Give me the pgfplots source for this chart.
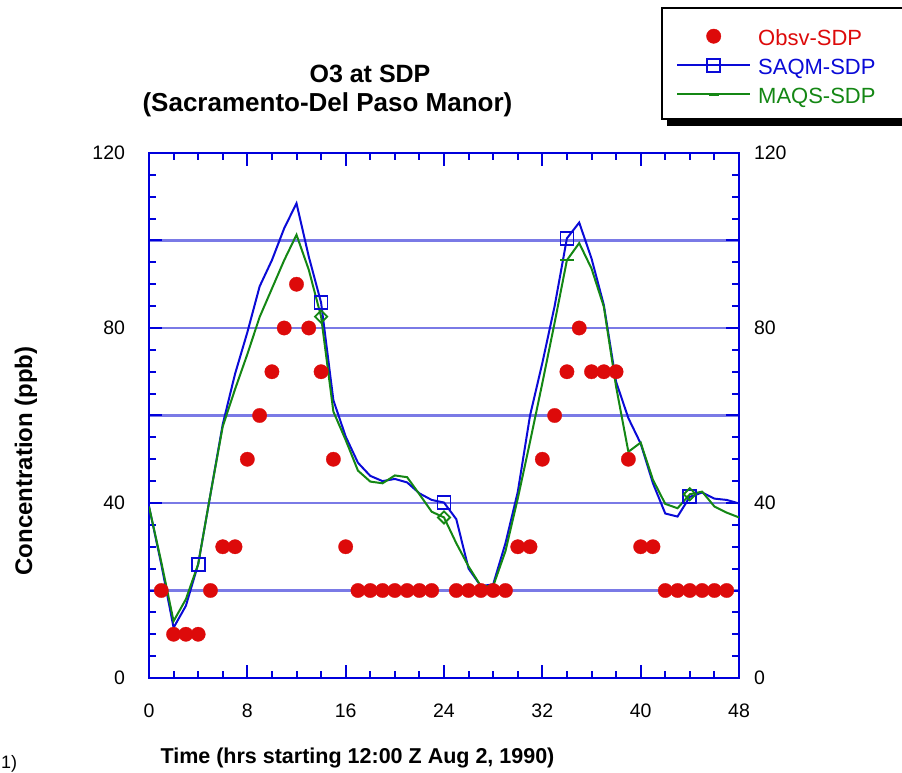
\documentclass[border=0pt]{standalone}
\usepackage{fontspec}
\setmainfont{Liberation Sans}
\usepackage{pgfplots}
\pgfplotsset{compat=1.18}
\usepackage{pgfplotstable}

\definecolor{obsred}{RGB}{221,10,10}
\definecolor{saqmblue}{RGB}{10,10,215}
\definecolor{maqsgreen}{RGB}{20,135,20}
\definecolor{gridblue}{RGB}{122,122,230}
\definecolor{frameblue}{RGB}{0,0,220}

\pgfplotstableread{
h obs
1 20
2 10
3 10
4 10
5 20
6 30
7 30
8 50
9 60
10 70
11 80
12 90
13 80
14 70
15 50
16 30
17 20
18 20
19 20
20 20
21 20
22 20
23 20
25 20
26 20
27 20
28 20
29 20
30 30
31 30
32 50
33 60
34 70
35 80
36 70
37 70
38 70
39 50
40 30
41 30
42 20
43 20
44 20
45 20
46 20
47 20
}\obstable

\pgfplotstableread{
h saqm maqs
0 39.2 39.2
1 26 26.5
2 11.5 13
3 16.5 18
4 26 26
5 42 42
6 58 57.5
7 69.5 66
8 79 74
9 89.5 82.5
10 95.5 89
11 102.8 95.5
12 108.5 101.3
13 96.3 93.3
14 85.8 82.6
15 63.5 60.9
16 55.2 54.4
17 49.2 47.4
18 46.2 44.9
19 45.0 44.5
20 45.5 46.3
21 44.7 45.9
22 42.2 42
23 40.7 38
24 40.1 36.7
25 36.3 30.8
26 25 25.5
27 21 21
28 21.4 21
29 30.8 29
30 42.5 41
31 60 54
32 72 67.4
33 85 81.2
34 100.5 95.5
35 104.1 99.4
36 95.9 93.6
37 85.3 84.9
38 67.7 66.6
39 59.4 51.7
40 53.6 53.8
41 44.5 45.3
42 37.6 39.8
43 36.9 38.8
44 41.4 42
45 42.4 42.6
46 41 39.2
47 40.7 37.8
48 39.9 36.7
}\modeltable

\begin{document}
\begin{tikzpicture}
\useasboundingbox (0,0) rectangle (902pt,772pt);
% legend frame with shadow
\fill[black] (667pt,646pt) rectangle (915pt,757pt);
\draw[black, line width=2pt, fill=white] (662pt,653pt) rectangle (912pt,764pt);

\begin{axis}[
  at={(149pt,94pt)}, anchor=south west,
  scale only axis, width=590pt, height=525pt,
  xmin=0, xmax=48, ymin=0, ymax=120,
  xtick={0,8,...,48}, minor x tick num=3,
  ytick={0,20,...,120}, yticklabels={0,,40,,80,,120}, minor y tick num=3,
  tick align=inside, major tick length=13pt, minor tick length=7pt,
  tick style={frameblue, line width=2pt},
  minor tick style={frameblue, line width=2pt},
  axis line style={frameblue, line width=2.8pt},
  ymajorgrids, grid style={gridblue, line width=2.4pt},
  /pgf/number format/assume math mode=true,
  ticklabel style={font=\fontsize{19.5}{23}\selectfont},
  yticklabel style={xshift=-20.5pt},
  xticklabel style={yshift=-22.5pt},
  legend cell align=left,
  legend style={draw=none, fill=none, at={(0.89322,1.24)}, anchor=north west,
    inner sep=0pt, row sep=9pt, column sep=5pt,
    nodes={inner sep=2pt, text height=16pt, text depth=0pt},
    font=\fontsize{22}{26}\selectfont},
]
\addplot[only marks, mark=*, mark size=7.2pt, color=obsred, mark options={fill=obsred, draw=obsred, line width=0.3pt},
  legend image code/.code={\draw[obsred] plot[only marks, mark=*, mark size=7.2pt, mark indices={1}, mark options={fill=obsred}] coordinates {(36.5pt,1pt)};}]
  table[x=h, y=obs] {\obstable};
\addlegendentry{\textcolor{obsred}{Obsv-SDP}}

\addplot[saqmblue, line width=2pt, mark=square, mark size=6.5pt, mark indices={5,15,25,35,45},
  mark options={solid, line width=1.8pt, fill=none},
  legend image code/.code={\draw[saqmblue, line width=2pt] (0pt,1pt) -- (73pt,1pt);
    \draw[saqmblue] plot[only marks, mark=square, mark size=6.5pt, mark indices={1}, mark options={line width=1.8pt, fill=none}] coordinates {(36.5pt,1pt)};}]
  table[x=h, y=saqm] {\modeltable};
\addlegendentry{\textcolor{saqmblue}{SAQM-SDP}}

\addplot[maqsgreen, line width=2pt, mark=square, mark size=4.3pt, mark indices={15,25,45},
  mark options={solid, line width=1.8pt, fill=none, rotate=45},
  legend image code/.code={\draw[maqsgreen, line width=2pt] (0pt,1pt) -- (73pt,1pt);
    \draw[maqsgreen] plot[only marks, mark=-, mark size=5pt, mark indices={1}, mark options={line width=3pt, rotate=0}] coordinates {(36.5pt,1pt)};}]
  table[x=h, y=maqs] {\modeltable};
\addlegendentry{\textcolor{maqsgreen}{MAQS-SDP}}

\addplot[forget plot, maqsgreen, only marks, mark=-, mark size=7pt, mark indices={35},
  mark options={line width=2.5pt}]
  table[x=h, y=maqs] {\modeltable};
\end{axis}

\begin{axis}[
  at={(149pt,94pt)}, anchor=south west,
  scale only axis, width=590pt, height=525pt,
  xmin=0, xmax=48, ymin=0, ymax=120,
  axis y line*=right, hide x axis, axis line style={draw=none},
  ytick={0,40,80,120}, major tick length=0pt, tick style={draw=none},
  /pgf/number format/assume math mode=true,
  yticklabel style={font=\fontsize{19.5}{23}\selectfont, xshift=11.5pt},
]
\end{axis}

\node[anchor=base, font=\bfseries\fontsize{25}{30}\selectfont] at (370pt,689pt) {O3 at SDP};
\node[anchor=base, font=\bfseries\fontsize{26}{30}\selectfont] at (327.5pt,660pt) {(Sacramento-Del Paso Manor)};
\node[anchor=base west, font=\bfseries\fontsize{21.5}{26}\selectfont] at (157pt,9pt) {Time (hrs starting 12:00 Z Aug 2, 1990)};
\node[rotate=90, anchor=base, font=\bfseries\fontsize{24}{28}\selectfont] at (32pt,311pt) {Concentration (ppb)};
\node[anchor=base west, inner sep=0pt, font=\fontsize{18}{22}\selectfont] at (1pt,4pt) {1)};
\end{tikzpicture}
\end{document}
